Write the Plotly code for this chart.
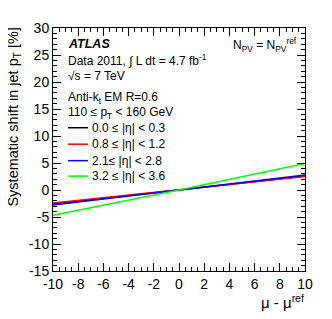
import plotly.graph_objects as go

mu_shift = [-10, 0, 10]
eta_labels = ["0.0 ≤ |η| < 0.3", "0.8 ≤ |η| < 1.2", "2.1≤ |η| < 2.8", "3.2 ≤ |η| < 3.6"]
shift_eta_00_03 = [-2.6, 0.0, 2.6]
shift_eta_08_12 = [-2.4, 0.0, 2.5]
shift_eta_21_28 = [-2.8, 0.0, 2.8]
shift_eta_32_36 = [-4.7, 0.0, 4.9]
colors = ["#000000", "#ff0000", "#0000ff", "#00ff00"]

x_tickvals = [-10, -8, -6, -4, -2, 0, 2, 4, 6, 8, 10]
x_ticktext = ["-10", "-8", "-6", "-4", "-2", "0", "2", "4", "6", "8", "10"]
y_tickvals = [-15, -10, -5, 0, 5, 10, 15, 20, 25, 30]
y_ticktext = ["-15", "-10", "-5", "0", "5", "10", "15", "20", "25", "30"]

FONT = "Liberation Sans, Arial, sans-serif"

# page body has an 8px margin; figure sized so plot area lands at x 53..305, y 20..271
OFF = 8
W, H = 332 - OFF, 319 - OFF
ML, MR, MT, MB = 53 - OFF, 27, 20 - OFF, 48

fig = go.Figure()
for name, ys, c in zip(eta_labels, [shift_eta_00_03, shift_eta_08_12, shift_eta_21_28, shift_eta_32_36], colors):
    fig.add_trace(go.Scatter(x=mu_shift, y=ys, mode="lines", name=name, showlegend=False,
                             line=dict(color=c, width=1.5)))

axis_common = dict(showline=True, linecolor="black", linewidth=1, mirror="ticks",
                   ticks="inside", tickcolor="black", showgrid=False, zeroline=False,
                   tickmode="array",
                   tickfont=dict(family=FONT, size=14, color="black"))

fig.update_xaxes(range=[-10, 10], tickvals=x_tickvals, ticktext=x_ticktext, ticklen=8,
                 minor=dict(ticks="inside", dtick=0.5, tick0=-10, ticklen=4, tickcolor="black"),
                 **axis_common)
fig.update_yaxes(range=[-15, 30], tickvals=y_tickvals, ticktext=y_ticktext, ticklen=8,
                 minor=dict(ticks="inside", dtick=1, tick0=-15, ticklen=4, tickcolor="black"),
                 **axis_common)

def py(p):
    return (271 - p) / 251.0
def px(p):
    return (p - 53) / 252.0

ann = []
shapes = []
def txt(x, y, s, size=12, **kw):
    ann.append(dict(x=x, y=y, xref="paper", yref="paper", text=s, showarrow=False,
                    xanchor=kw.pop("xanchor", "left"), yanchor=kw.pop("yanchor", "middle"),
                    font=dict(family=FONT, size=size, color="black"), **kw))

txt(px(66), py(37), "<b><i>ATLAS</i></b>", size=12.5)
txt(px(66), py(53), "Data 2011, ∫ L dt = 4.7 fb<sup>-1</sup>")
txt(px(66), py(70), "√s = 7 TeV")
txt(px(66), py(92), "Anti-k<sub>t</sub> EM R=0.6")
txt(px(66), py(108), "110 ≤ p<sub>T</sub> < 160 GeV")
txt(px(231), py(38), "N<sub>PV</sub> = N<sub>PV</sub><sup>ref</sup>")
txt(px(306), py(303), "μ - μ<sup>ref</sup>", size=15, xanchor="right")
ann.append(dict(x=px(14), y=py(18), xref="paper", yref="paper",
                text="Systematic shift in jet p<sub>T</sub> [%]",
                showarrow=False, textangle=-90, xanchor="center", yanchor="top",
                font=dict(family=FONT, size=14.5, color="black")))

# legend block
leg_y = [123, 140, 157, 173]
for yy, name, c in zip(leg_y, eta_labels, colors):
    shapes.append(dict(type="line", xref="paper", yref="paper", x0=px(68), x1=px(88),
                       y0=py(yy), y1=py(yy), line=dict(color=c, width=1.5)))
    txt(px(90), py(yy), name)

fig.update_layout(
    width=W, height=H,
    margin=dict(l=ML, r=MR, t=MT, b=MB),
    plot_bgcolor="white", paper_bgcolor="white",
    annotations=ann, shapes=shapes,
    showlegend=False,
)

fig.write_html("out.html")
